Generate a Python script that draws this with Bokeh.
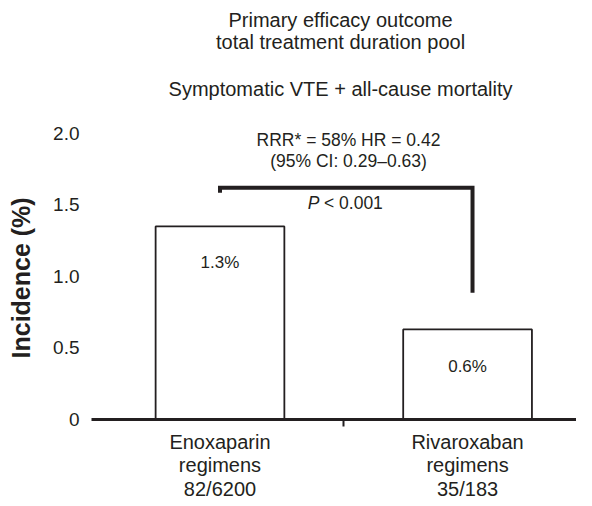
from bokeh.plotting import figure
from bokeh.models import Range1d, FixedTicker, ColumnDataSource, LinearAxis
from bokeh.core.properties import value
from bokeh.embed import file_html
from bokeh.resources import INLINE

# ---- data ----
groups = ["Enoxaparin\nregimens\n82/6200", "Rivaroxaban\nregimens\n35/183"]
group_pos = [1, 2]
incidence = [1.35, 0.63]
bar_labels = ["1.3%", "0.6%"]
y_ticks = [0, 0.5, 1.0, 1.5, 2.0]
y_tick_labels = ["0", "0.5", "1.0", "1.5", "2.0"]
y_title = "Incidence (%)"
title_lines = ["Primary efficacy outcome", "total treatment duration pool",
               "Symptomatic VTE + all-cause mortality"]
stat_lines = ["RRR* = 58% HR = 0.42", "(95% CI: 0.29\u20130.63)"]
p_text = "< 0.001"
bracket_x = [1, 1, 2.02, 2.02]
bracket_y = [1.585, 1.62, 1.62, 0.886]

INK = "#231f20"
FONT = "Liberation Sans"
Y_END = 2.93

p = figure(frame_width=485, frame_height=419,
           x_range=Range1d(0.481, 2.44), y_range=Range1d(0, Y_END),
           output_backend="svg", toolbar_location=None,
           min_border_left=91, min_border_right=0, min_border_top=0,
           min_border_bottom=71)
p.outline_line_color = None
p.grid.visible = False
p.background_fill_color = "white"

# bars
src = ColumnDataSource(dict(x=group_pos, top=incidence, lab=bar_labels))
p.vbar(x="x", top="top", bottom=0, width=0.52, source=src,
       fill_color="white", line_color=INK, line_width=1.8)

# bar value labels
p.text(x=group_pos, y=[1.10, 0.374], text=bar_labels, text_align="center",
       text_baseline="middle", text_font=value(FONT), text_font_size="17px",
       text_color=INK)

# bracket
p.line(bracket_x, bracket_y, line_color=INK, line_width=4, line_join="miter")
p.text(x=[1.354], y=[1.516], text=["P"], text_align="left",
       text_baseline="middle", text_font=value(FONT), text_font_size="17.5px",
       text_font_style="italic", text_color=INK)
p.text(x=[1.42], y=[1.516], text=[p_text], text_align="left",
       text_baseline="middle", text_font=value(FONT), text_font_size="17.5px",
       text_color=INK)

# statistics
p.text(x=[1.519, 1.519], y=[1.952, 1.806], text=stat_lines, text_align="center",
       text_baseline="middle", text_font=value(FONT), text_font_size="17.5px",
       text_color=INK)

# titles
p.text(x=[1.487, 1.487, 1.487], y=[2.792, 2.637, 2.311], text=title_lines,
       text_align="center", text_baseline="middle", text_font=value(FONT),
       text_font_size="20px", text_color=INK)

# y axis
p.yaxis.ticker = FixedTicker(ticks=y_ticks)
p.yaxis.major_label_overrides = {t: l for t, l in zip(y_ticks, y_tick_labels)}
p.yaxis.axis_line_color = None
p.yaxis.major_tick_line_color = None
p.yaxis.minor_tick_line_color = None
p.yaxis.major_tick_out = 0
p.yaxis.major_tick_in = 0
p.yaxis.major_label_standoff = 12
p.yaxis.major_label_text_font = FONT
p.yaxis.major_label_text_font_size = "19px"
p.yaxis.major_label_text_color = INK

# y-axis title, centred on the 0-2 data span (outer label-only axis)
ttl_axis = LinearAxis(ticker=FixedTicker(ticks=[0.99]),
                      major_label_overrides={0.99: y_title})
ttl_axis.axis_line_color = None
ttl_axis.major_tick_line_color = None
ttl_axis.minor_tick_line_color = None
ttl_axis.major_tick_out = 0
ttl_axis.major_tick_in = 0
ttl_axis.major_label_orientation = "vertical"
ttl_axis.major_label_standoff = 15
ttl_axis.major_label_text_font = FONT
ttl_axis.major_label_text_font_style = "bold"
ttl_axis.major_label_text_font_size = "25px"
ttl_axis.major_label_text_color = INK
p.add_layout(ttl_axis, "left")

# x axis
p.xaxis.ticker = FixedTicker(ticks=group_pos, minor_ticks=[1.5])
p.xaxis.major_label_overrides = {t: l for t, l in zip(group_pos, groups)}
p.xaxis.axis_line_color = INK
p.xaxis.axis_line_width = 3
p.xaxis.major_tick_line_color = None
p.xaxis.major_tick_out = 0
p.xaxis.major_tick_in = 0
p.xaxis.minor_tick_line_color = INK
p.xaxis.minor_tick_line_width = 2
p.xaxis.minor_tick_out = 7
p.xaxis.minor_tick_in = 0
p.xaxis.major_label_standoff = 4
p.xaxis.major_label_text_font = FONT
p.xaxis.major_label_text_font_size = "20px"
p.xaxis.major_label_text_line_height = 1.08
p.xaxis.major_label_text_color = INK

open("out.html", "w").write(file_html(p, INLINE))
